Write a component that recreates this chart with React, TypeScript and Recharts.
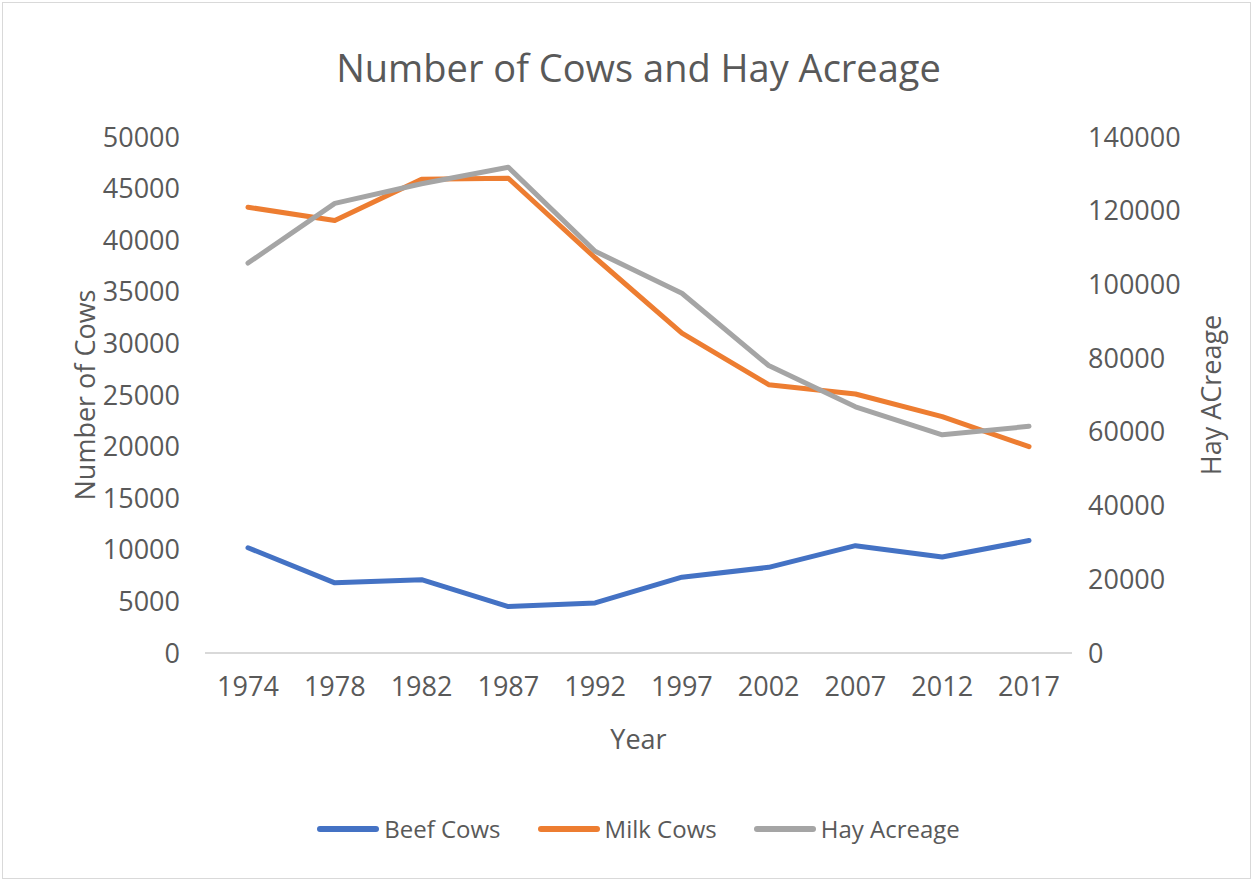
import React from 'react'
import { LineChart, Line, XAxis, YAxis, Label } from 'recharts'

const years = ['1974', '1978', '1982', '1987', '1992', '1997', '2002', '2007', '2012', '2017']
const beefCows = [10200, 6800, 7100, 4500, 4850, 7350, 8300, 10400, 9300, 10900]
const milkCows = [43200, 41900, 45900, 46000, 38300, 31000, 26000, 25100, 22900, 20000]
const hayAcreage = [105800, 122000, 127300, 131800, 109000, 97600, 78000, 66800, 59200, 61500]
const cowTicks = [0, 5000, 10000, 15000, 20000, 25000, 30000, 35000, 40000, 45000, 50000]
const hayTicks = [0, 20000, 40000, 60000, 80000, 100000, 120000, 140000]

const series = [
    { key: 'beef', name: 'Beef Cows', color: '#4472C4', axis: 'cows' },
    { key: 'milk', name: 'Milk Cows', color: '#ED7D31', axis: 'cows' },
    { key: 'hay', name: 'Hay Acreage', color: '#A5A5A5', axis: 'hay' },
]

const FONT = '"Open Sans", sans-serif'
const TEXT = '#595959'

const data = years.map((year, i) => ({
    year,
    beef: beefCows[i],
    milk: milkCows[i],
    hay: hayAcreage[i],
}))

function VerticalTitle(props: any) {
    const { viewBox, text, cx } = props
    const cy = viewBox.y + viewBox.height / 2
    return (
        <text x={cx} y={cy} transform={`rotate(-90 ${cx} ${cy})`} textAnchor="middle"
            dominantBaseline="central" fill={TEXT} fontSize={27} fontFamily={FONT}>
            {text}
        </text>
    )
}

function BottomTitle(props: any) {
    const { viewBox, text } = props
    const cx = viewBox.x + viewBox.width / 2
    return (
        <text x={cx} y={viewBox.y + 85} textAnchor="middle" dominantBaseline="central"
            fill={TEXT} fontSize={27} fontFamily={FONT}>
            {text}
        </text>
    )
}

const tickStyle = { fill: TEXT, fontSize: 27, fontFamily: FONT }

export default function App() {
    return (
        <div style={{ position: 'relative', width: 1253, height: 881, background: '#fff', fontFamily: FONT }}>
            <style>{`body{margin:0}`}</style>
            <div style={{ position: 'absolute', left: 2, top: 2, right: 2, bottom: 2, border: '1.5px solid #d9d9d9' }} />
            <div style={{
                position: 'absolute', left: 205, width: 867, top: 42, textAlign: 'center',
                fontSize: 38, color: TEXT, lineHeight: '50px',
            }}>
                Number of Cows and Hay Acreage
            </div>
            <LineChart width={1253} height={881} data={data}
                margin={{ top: 137, right: 0, bottom: 98, left: 0 }}>
                <XAxis dataKey="year" height={130} padding={{ left: 43, right: 43 }}
                    tickLine={false} tickSize={0} tickMargin={24}
                    axisLine={{ stroke: '#d9d9d9', strokeWidth: 2 }} tick={tickStyle}>
                    <Label content={<BottomTitle text="Year" />} />
                </XAxis>
                <YAxis yAxisId="cows" width={205} domain={[0, 50000]} ticks={cowTicks}
                    interval={0} axisLine={false} tickLine={false} tickSize={0} tickMargin={25}
                    tick={tickStyle}>
                    <Label content={<VerticalTitle text="Number of Cows" cx={84} />} />
                </YAxis>
                <YAxis yAxisId="hay" orientation="right" width={181} domain={[0, 140000]} ticks={hayTicks}
                    interval={0} axisLine={false} tickLine={false} tickSize={0} tickMargin={16}
                    tick={{ ...tickStyle, textAnchor: 'start' }}>
                    <Label content={<VerticalTitle text="Hay ACreage" cx={1210} />} />
                </YAxis>
                {series.map(s => (
                    <Line key={s.key} yAxisId={s.axis} dataKey={s.key} name={s.name} stroke={s.color}
                        strokeWidth={5} dot={false} strokeLinejoin="round" strokeLinecap="round"
                        isAnimationActive={false} />
                ))}
            </LineChart>
            <div style={{
                position: 'absolute', left: 205, width: 867, top: 812, display: 'flex',
                justifyContent: 'center', alignItems: 'center', gap: 37, fontSize: 24, color: TEXT,
            }}>
                {series.map(s => (
                    <div key={s.key} style={{ display: 'flex', alignItems: 'center', gap: 5 }}>
                        <span style={{ display: 'inline-block', width: 62, height: 6, borderRadius: 3, background: s.color }} />
                        <span>{s.name}</span>
                    </div>
                ))}
            </div>
        </div>
    )
}
